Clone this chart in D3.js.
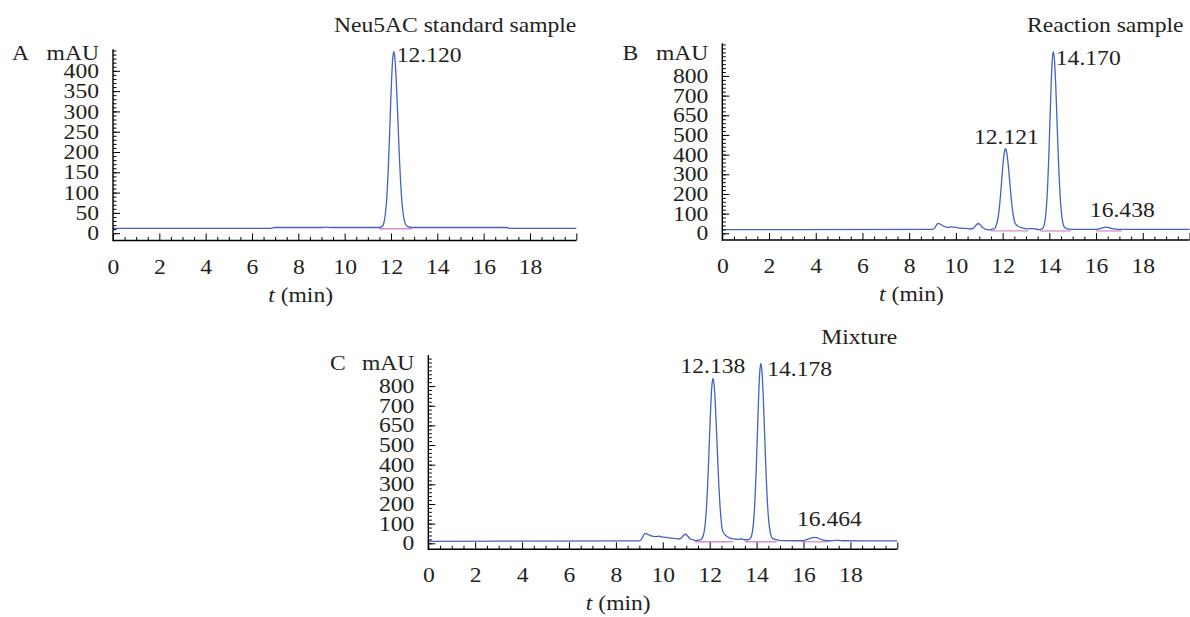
<!DOCTYPE html>
<html>
<head>
<meta charset="utf-8">
<script src="https://cdn.jsdelivr.net/npm/d3@7"></script>
<style>
  html, body { margin: 0; padding: 0; background: #fff; }
  svg { display: block; }
  text { font-family: "Liberation Serif", "Times New Roman", serif; fill: #231f20; }
</style>
</head>
<body>
<svg id="chart" width="1190" height="617"></svg>
<script>
// ---- Chromatogram data: [retention time (min), absorbance (mAU)] ----
const traceA = [
  [0, 12], [6.8, 12], [7.0, 14], [9.0, 14], [9.2, 15], [9.4, 14], [11.4, 14],
  [11.52, 14], [11.62, 17], [11.67, 21], [11.72, 33], [11.77, 54], [11.82, 88],
  [11.87, 142], [11.92, 212], [11.97, 293], [12.02, 370], [12.07, 426], [12.12, 447],
  [12.17, 431], [12.22, 385], [12.27, 320], [12.32, 248], [12.37, 179], [12.42, 122],
  [12.47, 79], [12.52, 51], [12.62, 23], [12.72, 16], [12.92, 14], [13.2, 14],
  [17.0, 14], [17.1, 12], [20, 12]
];

const traceB = [
  [0, 19], [9.0, 20], [9.1, 28], [9.18, 45], [9.25, 51], [9.35, 45], [9.5, 35],
  [9.65, 30], [9.8, 33], [9.9, 31], [10.1, 28], [10.4, 25], [10.6, 22], [10.75, 26],
  [10.87, 42], [10.96, 50], [11.05, 42], [11.15, 28], [11.3, 20], [11.45, 17],
  [11.52, 20], [11.62, 22], [11.67, 25], [11.72, 38], [11.77, 58], [11.82, 91],
  [11.87, 141], [11.92, 208], [11.97, 284], [12.02, 357], [12.07, 410], [12.121, 430],
  [12.17, 414], [12.22, 371], [12.27, 310], [12.32, 241], [12.37, 176], [12.42, 122],
  [12.47, 82], [12.52, 55], [12.62, 40], [12.72, 32], [12.87, 26], [13.05, 23],
  [13.3, 24], [13.42, 22], [13.55, 19], [13.62, 20], [13.72, 26], [13.77, 39],
  [13.82, 69], [13.87, 126], [13.92, 223], [13.97, 368], [14.02, 549], [14.07, 731],
  [14.12, 871], [14.17, 923], [14.22, 880], [14.27, 763], [14.32, 602], [14.37, 433],
  [14.42, 286], [14.47, 174], [14.52, 102], [14.57, 59], [14.62, 36], [14.67, 28],
  [14.77, 22], [14.92, 20], [15.95, 20], [16.05, 21], [16.2, 25], [16.35, 30],
  [16.438, 31], [16.55, 29], [16.7, 24], [16.85, 21], [17.0, 20], [20, 20]
];

const traceC = [
  [0, 10], [9.0, 12], [9.1, 22], [9.18, 42], [9.25, 51], [9.35, 46], [9.5, 38],
  [9.7, 34], [9.85, 36], [9.95, 33], [10.2, 29], [10.5, 25], [10.7, 22], [10.8, 28],
  [10.9, 42], [10.97, 46], [11.05, 38], [11.15, 25], [11.3, 17], [11.45, 14],
  [11.54, 16], [11.64, 21], [11.69, 28], [11.74, 46], [11.79, 80], [11.84, 143],
  [11.89, 240], [11.94, 374], [11.99, 531], [12.04, 684], [12.09, 797], [12.138, 839],
  [12.19, 804], [12.24, 708], [12.29, 574], [12.34, 428], [12.39, 295], [12.44, 190],
  [12.49, 115], [12.54, 68], [12.64, 45], [12.74, 35], [12.86, 26], [13.04, 22],
  [13.2, 20], [13.35, 22], [13.5, 18], [13.63, 18], [13.73, 24], [13.78, 37],
  [13.83, 66], [13.88, 123], [13.93, 220], [13.98, 364], [14.03, 543], [14.08, 725],
  [14.13, 863], [14.178, 915], [14.23, 872], [14.28, 756], [14.33, 596], [14.38, 428],
  [14.43, 282], [14.48, 171], [14.53, 100], [14.58, 57], [14.63, 34], [14.68, 26],
  [14.78, 20], [14.93, 16], [15.0, 14], [15.9, 13], [16.05, 15], [16.2, 21],
  [16.35, 28], [16.464, 30], [16.6, 27], [16.75, 20], [16.9, 15], [17.1, 13],
  [17.3, 14], [17.5, 15], [17.7, 13], [20, 12]
];

// Integration baselines: [start, end] in minutes, with their level in mAU
const integrationA = [[11.49, 12.90]];
const integrationB = [[11.49, 13.09], [13.6, 14.9], [16.0, 17.1]];
const integrationC = [[11.37, 13.0], [13.5, 14.86], [15.92, 17.06]];
const integrationLevel = { A: 11, B: 12, C: 8 };

// Annotated peaks (retention times)
const peaksA = [12.120];
const peaksB = [12.121, 14.170, 16.438];
const peaksC = [12.138, 14.178, 16.464];

// Axis ticks and labels
const timeTicks = [0, 2, 4, 6, 8, 10, 12, 14, 16, 18, 20];
const timeTickLabels = ["0", "2", "4", "6", "8", "10", "12", "14", "16", "18", ""];
const yTicksA = [0, 50, 100, 150, 200, 250, 300, 350, 400];
const yTickLabelsA = ["0", "50", "100", "150", "200", "250", "300", "350", "400"];
const yTicksBC = [0, 100, 200, 300, 400, 500, 600, 700, 800];
const yTickLabelsBC = ["0", "100", "200", "300", "400", "500", "650", "700", "800"];

const titles = { A: "Neu5AC standard sample", B: "Reaction sample", C: "Mixture" };

// ---- Layout ----
const SX = 1.18;       // horizontal stretch of the serif lettering
const FONT = 20;
const TRACE_COLOR = "#4562c2";
const INTEG_COLOR = "#d48ccf";

const panels = [
  { key: "A", trace: traceA, integ: integrationA, peaks: peaksA,
    xr: [113, 576.3], yr: [240.5, 49.3], yd: [-18, 453],
    yTicks: yTicksA, yLabels: yTickLabelsA, minorStep: 10,
    letterX: 12, unitY: 60, titleY: 32,
    peakPos: [{ mode: "right", dx: 3, dy: 10 }] },
  { key: "B", trace: traceB, integ: integrationB, peaks: peaksB,
    xr: [722.3, 1189.5], yr: [240, 43.3], yd: [-34, 966],
    yTicks: yTicksBC, yLabels: yTickLabelsBC, minorStep: 20,
    letterX: 622.5, unitY: 60, titleY: 32,
    peakPos: [{ mode: "above", dx: 1, dy: -5 },
              { mode: "right", dx: 2.5, dy: 13 },
              { mode: "above", dx: 16, dy: -10 }] },
  { key: "C", trace: traceC, integ: integrationC, peaks: peaksC,
    xr: [428.3, 897.3], yr: [549.3, 355], yd: [-30.5, 958],
    yTicks: yTicksBC, yLabels: yTickLabelsBC, minorStep: 20,
    letterX: 330, unitY: 370, titleY: 344,
    peakPos: [{ mode: "above", dx: 0, dy: -5 },
              { mode: "right", dx: 6.5, dy: 12.5 },
              { mode: "above", dx: 15, dy: -11 }] }
];

const svg = d3.select("#chart");

function stretchedText(g, x, y, str, anchor, italicPart) {
  const t = g.append("text")
    .attr("transform", `translate(${x},${y}) scale(${SX},1)`)
    .attr("text-anchor", anchor || "start")
    .attr("font-size", FONT);
  if (italicPart) {
    t.append("tspan").attr("font-style", "italic").text(italicPart);
  }
  t.append("tspan").text(str);
  return t;
}

panels.forEach(p => {
  const g = svg.append("g");
  const x = d3.scaleLinear().domain([0, 20]).range(p.xr);
  const y = d3.scaleLinear().domain(p.yd).range(p.yr);
  const xAxisY = p.yr[0];
  const yAxisX = p.xr[0];

  // Integration baselines
  const integLine = d3.line().x(d => x(d)).y(() => y(integrationLevel[p.key]));
  g.selectAll("path.integ").data(p.integ).join("path")
    .attr("class", "integ")
    .attr("d", d => integLine(d))
    .attr("fill", "none").attr("stroke", INTEG_COLOR).attr("stroke-width", 1.3);

  // Signal trace
  const line = d3.line().x(d => x(d[0])).y(d => y(d[1])).curve(d3.curveMonotoneX);
  g.append("path").datum(p.trace)
    .attr("d", line)
    .attr("fill", "none").attr("stroke", TRACE_COLOR).attr("stroke-width", 1.3)
    .attr("stroke-linejoin", "round");

  // X axis: minor ticks, major ticks (pointing inward), labels
  const minorX = d3.range(0, 20.001, 0.5).filter(v => v % 2 !== 0);
  g.append("g").attr("transform", `translate(0,${xAxisY})`)
    .call(d3.axisTop(x).tickValues(minorX).tickSize(3.5).tickFormat(""))
    .call(a => a.select(".domain").remove());
  g.append("g").attr("transform", `translate(0,${xAxisY})`)
    .call(d3.axisTop(x).tickValues(timeTicks).tickSize(7).tickFormat(""))
    .call(a => a.select(".domain").remove());
  g.append("g").attr("transform", `translate(0,${xAxisY})`)
    .call(d3.axisBottom(x).tickValues(timeTicks).tickSize(0).tickPadding(19)
      .tickFormat((d, i) => timeTickLabels[i]))
    .call(a => a.select(".domain").remove())
    .call(a => a.selectAll("text")
      .attr("font-size", FONT).attr("font-family", null).attr("fill", "#231f20")
      .attr("transform", `scale(${SX},1)`)
      .attr("x", 0));
  g.selectAll(".tick line").attr("stroke", "#000").attr("stroke-width", 1);

  // Y axis: minor ticks, major ticks (pointing inward), labels
  const minorY = d3.range(0, p.yd[1], p.minorStep)
    .filter(v => y(v) >= p.yr[1]);
  g.append("g").attr("transform", `translate(${yAxisX},0)`)
    .call(d3.axisRight(y).tickValues(minorY).tickSize(3.5).tickFormat(""))
    .call(a => a.select(".domain").remove());
  g.append("g").attr("transform", `translate(${yAxisX},0)`)
    .call(d3.axisRight(y).tickValues(p.yTicks).tickSize(7).tickFormat(""))
    .call(a => a.select(".domain").remove());
  g.append("g").attr("transform", `translate(${yAxisX},0)`)
    .call(d3.axisLeft(y).tickValues(p.yTicks).tickSize(0).tickPadding(14)
      .tickFormat((d, i) => p.yLabels[i]))
    .call(a => a.select(".domain").remove())
    .call(a => a.selectAll("text")
      .attr("font-size", FONT).attr("font-family", null).attr("fill", "#231f20")
      .attr("transform", `scale(${SX},1)`)
      .attr("x", -14 / SX).attr("dy", "0.33em"));
  g.selectAll(".tick line").attr("stroke", "#000").attr("stroke-width", 1);

  // Axis lines
  g.append("line")
    .attr("x1", yAxisX).attr("x2", p.xr[1]).attr("y1", xAxisY).attr("y2", xAxisY)
    .attr("stroke", "#000").attr("stroke-width", 1.4);
  g.append("line")
    .attr("x1", yAxisX).attr("x2", yAxisX).attr("y1", xAxisY + 0.7).attr("y2", p.yr[1])
    .attr("stroke", "#000").attr("stroke-width", 1.4);

  // Axis titles, panel letter, panel title
  stretchedText(g, x(8.1), xAxisY + 61, " (min)", "middle", "t");
  stretchedText(g, yAxisX - 14, p.unitY, "mAU", "end");
  stretchedText(g, p.letterX, p.unitY, p.key, "start");
  stretchedText(g, p.xr[1] + (p.key === "B" ? -6 : 0), p.titleY, titles[p.key], "end");

  // Peak retention-time labels
  p.peaks.forEach((t, i) => {
    const pt = p.trace.find(d => Math.abs(d[0] - t) < 1e-6);
    const pos = p.peakPos[i];
    const px = x(t) + pos.dx;
    const py = y(pt[1]) + pos.dy;
    stretchedText(g, px, py, t.toFixed(3), pos.mode === "above" ? "middle" : "start");
  });
});
</script>
</body>
</html>
